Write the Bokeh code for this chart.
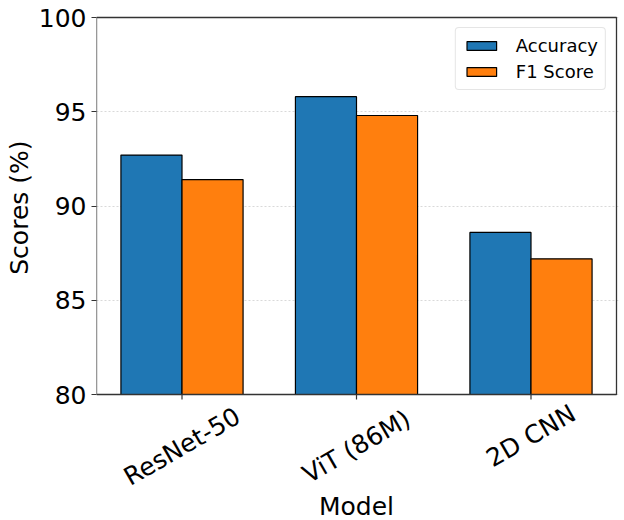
import math
import numpy as np
from bokeh.plotting import figure
from bokeh.models import Range1d, FixedTicker, Legend, LegendItem, Title
from bokeh.core.properties import value
from bokeh.embed import file_html
from bokeh.resources import INLINE

models = ["ResNet-50", "ViT (86M)", "2D CNN"]
accuracy = [92.7, 95.8, 88.6]
f1_score = [91.4, 94.8, 87.2]
y_ticks = [80, 85, 90, 95, 100]

FONT = "DejaVu Sans"
W, H = 624, 520
bar_w = 0.35
x = np.arange(len(models))
Y0, Y1 = 80, 100
X0, X1 = -0.49, 2.49

# pixel geometry of the visible axes box
BOX_L, BOX_R, BOX_T, BOX_B = 96, 616, 17, 394
FR_T, FR_R = 15, 618          # drawing frame extends a little beyond the box
ppu_y = (BOX_B - BOX_T) / (Y1 - Y0)
ppu_x = (BOX_R - BOX_L) / (X1 - X0)

def y_at(py):
    return Y0 - (py - BOX_B) / ppu_y

p = figure(width=W, height=H, output_backend="svg", toolbar_location=None,
           x_range=Range1d(X0, X1 + (FR_R - BOX_R) / ppu_x),
           y_range=Range1d(y_at(H), y_at(FR_T)),
           min_border_left=BOX_L, min_border_right=W - FR_R,
           min_border_top=FR_T, min_border_bottom=0)

r1 = p.vbar(x=x - bar_w / 2, top=accuracy, bottom=Y0, width=bar_w,
            fill_color="#1f77b4", line_color="black", line_width=1.2)
r2 = p.vbar(x=x + bar_w / 2, top=f1_score, bottom=Y0, width=bar_w,
            fill_color="#ff7f0e", line_color="black", line_width=1.2)

# axes box
p.quad(left=[X0], right=[X1], bottom=[Y0], top=[Y1], fill_color=None,
       line_color="#333333", line_width=1.3)
# x ticks
p.segment(x0=list(x), x1=list(x), y0=[Y0] * len(x), y1=[y_at(BOX_B + 5)] * len(x),
          line_color="#333333", line_width=1.2)

p.xaxis.visible = False
p.yaxis.ticker = FixedTicker(ticks=y_ticks)
ya = p.yaxis[0]
ya.minor_tick_line_color = None
ya.major_tick_out = 5
ya.major_tick_in = 0
ya.axis_line_color = None
ya.major_tick_line_color = "#333333"
ya.major_label_text_font = FONT
ya.major_label_text_font_size = "25px"
ya.major_label_text_color = "black"
ya.major_label_standoff = 5

ytitle = Title(text="Scores (%)", align="right", offset=140 - FR_T,
               text_font=FONT, text_font_size="25px", text_font_style="normal",
               text_color="black", standoff=4)
p.add_layout(ytitle, "left")

p.xgrid.grid_line_color = None
p.ygrid.grid_line_color = "#d9d9d9"
p.ygrid.grid_line_dash = "2 2"
p.ygrid.grid_line_width = 1

p.outline_line_color = None
p.background_fill_color = "white"
p.border_fill_color = "white"

# rotated category labels, centred under each tick
fs = 25
ang = math.radians(30)
label_y = []
for m in models:
    w = 0.57 * fs * len(m)
    box_h = w * math.sin(ang) + 12
    label_y.append(y_at(408 + box_h / 2))
p.text(x=list(x), y=label_y, text=models, angle=ang,
       text_align="center", text_baseline="middle",
       text_font=value(FONT), text_font_size="25px", text_color="black")
p.text(x=[(X0 + X1) / 2], y=[y_at(506)], text=["Model"],
       text_align="center", text_baseline="middle",
       text_font=value(FONT), text_font_size="25px", text_color="black")

legend = Legend(items=[LegendItem(label="Accuracy", renderers=[r1]),
                       LegendItem(label="F1 Score", renderers=[r2])],
                location="top_right")
legend.label_text_font = FONT
legend.label_text_font_size = "18px"
legend.label_text_color = "black"
legend.border_line_color = "#cccccc"
legend.border_line_width = 1
legend.border_radius = 4
legend.background_fill_alpha = 0.8
legend.glyph_width = 37
legend.glyph_height = 11
legend.label_height = 20
legend.spacing = 5
legend.padding = 7
legend.margin = 12
legend.label_standoff = 16
p.add_layout(legend)

open("out.html", "w").write(file_html(p, INLINE))
